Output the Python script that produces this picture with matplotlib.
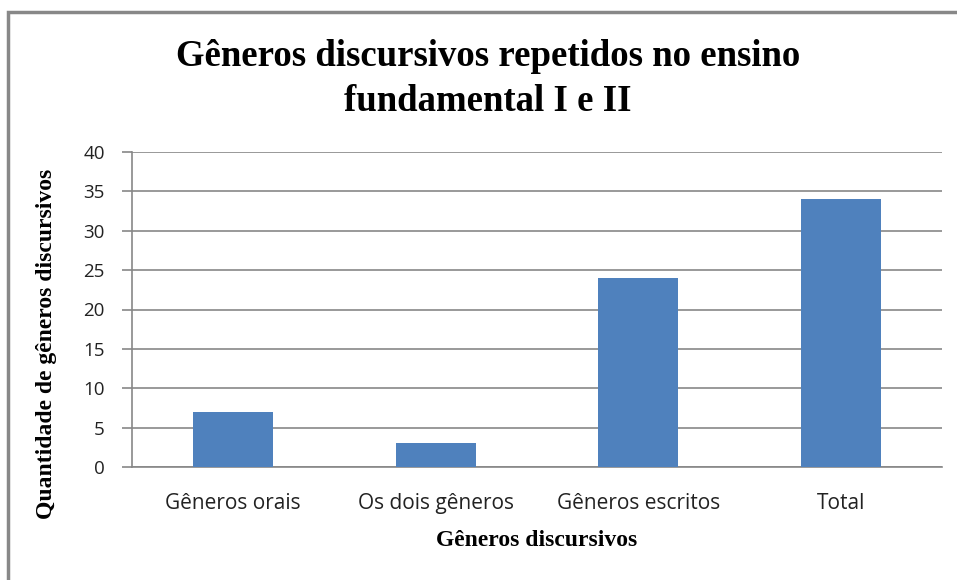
#!/usr/bin/env python3
"""Gêneros discursivos repetidos no ensino fundamental I e II."""

import matplotlib
matplotlib.use("Agg")
import matplotlib.pyplot as plt
from matplotlib.patches import Rectangle

categories = ["Gêneros orais", "Os dois gêneros", "Gêneros escritos", "Total"]
values = [7, 3, 24, 34]
y_ticks = [0, 5, 10, 15, 20, 25, 30, 35, 40]

BAR_COLOR = "#4F81BD"
GRID_COLOR = "#878787"
SERIF = ["Liberation Serif", "DejaVu Serif"]
SANS = ["Open Sans", "DejaVu Sans"]


def main():
    fig = plt.figure(figsize=(9.57, 5.8), dpi=100)
    ax = fig.add_axes([132 / 957, 113 / 580, 810 / 957, 315 / 580])

    # outer chart border (cut off at right/bottom like the source)
    fig.patches.append(Rectangle((8 / 957, -0.1), 1.2, 1.1 - 12 / 580,
                                 transform=fig.transFigure, fill=False,
                                 edgecolor="#888888", linewidth=2.5))

    x = list(range(len(categories)))
    ax.bar(x, values, width=0.395, color=BAR_COLOR, zorder=3)

    ax.set_xlim(-0.5, len(categories) - 0.5)
    ax.set_ylim(0, 40)
    ax.set_yticks(y_ticks)
    ax.set_xticks(x)
    ax.set_xticklabels(categories, family=SANS, fontsize=15, color="#222222")
    for lbl in ax.get_yticklabels():
        lbl.set_family(SANS)
        lbl.set_fontsize(13.5)
        lbl.set_color("#222222")

    ax.yaxis.grid(True, color=GRID_COLOR, linewidth=1.2, zorder=0)
    ax.set_axisbelow(True)
    ax.tick_params(axis="y", length=7, width=1.2, color=GRID_COLOR, pad=12.5)
    ax.tick_params(axis="x", length=0, pad=18.5)

    for side in ("top", "right"):
        ax.spines[side].set_visible(False)
    for side in ("left", "bottom"):
        ax.spines[side].set_color(GRID_COLOR)
        ax.spines[side].set_linewidth(1.2)

    fig.text(488 / 957, 1 - 79 / 580,
             "Gêneros discursivos repetidos no ensino\nfundamental I e II",
             ha="center", va="center", family=SERIF, fontweight="bold",
             fontsize=26.5, linespacing=1.4)
    fig.text(537 / 957, 1 - 541 / 580, "Gêneros discursivos", ha="center",
             va="center", family=SERIF, fontweight="bold", fontsize=17)
    fig.text(47 / 957, 1 - 344 / 580, "Quantidade de gêneros discursivos",
             ha="center", va="center", rotation=90, family=SERIF,
             fontweight="bold", fontsize=17)

    fig.savefig("out.png", dpi=100)
    plt.close(fig)


if __name__ == "__main__":
    main()
